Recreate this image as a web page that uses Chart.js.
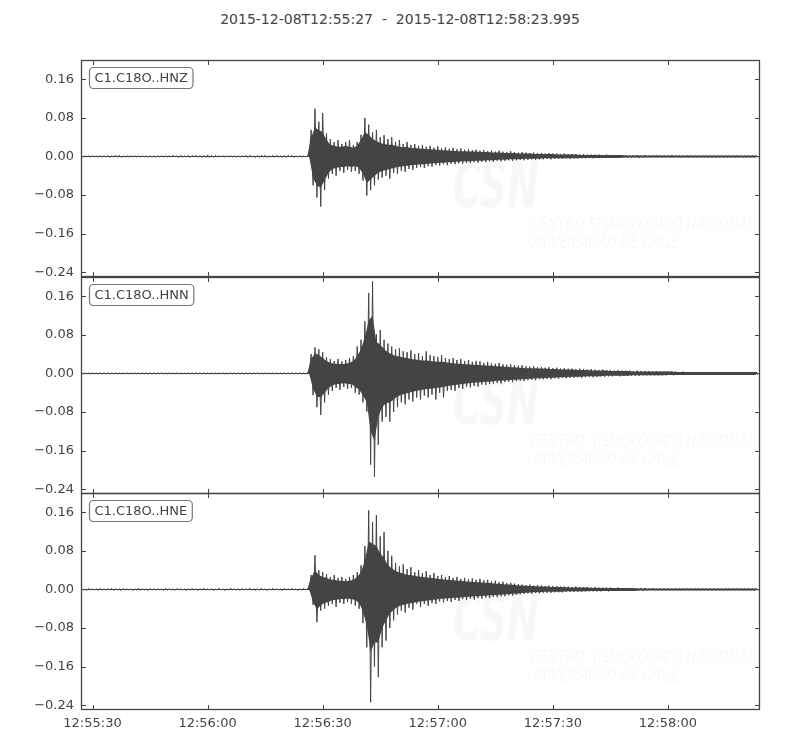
<!DOCTYPE html>
<html>
<head>
<meta charset="utf-8">
<script src="https://cdn.jsdelivr.net/npm/chart.js@4.4.0/dist/chart.umd.min.js"></script>
<style>
  body { margin: 0; background: #fff; }
  #wrap { position: relative; width: 800px; height: 750px; }
  #wrap canvas { position: absolute; left: 0; }
  #title { position: absolute; top: 11px; left: 0px; width: 800px; text-align: center;
           font: 14px 'DejaVu Sans', sans-serif; color: #444; white-space: pre; }
</style>
</head>
<body>
<div id="wrap">
  <div id="title"></div>
  <canvas id="p0" width="800" height="257" style="top:40px"></canvas>
  <canvas id="p1" width="800" height="257" style="top:257px"></canvas>
  <canvas id="p2" width="800" height="277" style="top:473px"></canvas>
</div>
<script>
const startTime = "2015-12-08T12:55:27";
const endTime = "2015-12-08T12:58:23.995";
const channels = ["C1.C18O..HNZ", "C1.C18O..HNN", "C1.C18O..HNE"];
// seconds after 12:55:27
const xTickSeconds = [3, 33, 63, 93, 123, 153];
const xTickLabels = ["12:55:30", "12:56:00", "12:56:30", "12:57:00", "12:57:30", "12:58:00"];
const yTicks = [-0.24, -0.16, -0.08, 0.0, 0.08, 0.16];
const yTickLabels = ["\u22120.24", "\u22120.16", "\u22120.08", "0.00", "0.08", "0.16"];

// peak envelope of each trace, one max / min per second (0..176 s)
const hnzUpper = [
  0.001, 0.001, 0.001, 0.001, 0.001, 0.001, 0.001, 0.002, 0.001, 0.002,
  0.002, 0.001, 0.001, 0.001, 0.001, 0.001, 0.001, 0.001, 0.001, 0.001,
  0.001, 0.001, 0.001, 0.001, 0.002, 0.001, 0.002, 0.001, 0.002, 0.002,
  0.002, 0.002, 0.002, 0.003, 0.002, 0.002, 0.001, 0.001, 0.001, 0.001,
  0.001, 0.001, 0.001, 0.002, 0.002, 0.001, 0.002, 0.002, 0.002, 0.001,
  0.002, 0.002, 0.001, 0.002, 0.002, 0.002, 0.001, 0.001, 0.001, 0.001,
  0.055, 0.099, 0.072, 0.090, 0.048, 0.036, 0.030, 0.034, 0.026, 0.030,
  0.034, 0.024, 0.030, 0.045, 0.080, 0.066, 0.050, 0.055, 0.040, 0.044,
  0.036, 0.040, 0.030, 0.034, 0.026, 0.030, 0.024, 0.026, 0.022, 0.024,
  0.020, 0.022, 0.018, 0.021, 0.017, 0.019, 0.016, 0.018, 0.015, 0.017,
  0.014, 0.015, 0.013, 0.014, 0.012, 0.013, 0.011, 0.012, 0.010, 0.012,
  0.010, 0.009, 0.011, 0.009, 0.008, 0.009, 0.008, 0.007, 0.008, 0.007,
  0.007, 0.006, 0.007, 0.006, 0.006, 0.005, 0.006, 0.005, 0.005, 0.005,
  0.004, 0.005, 0.004, 0.004, 0.004, 0.004, 0.003, 0.004, 0.003, 0.003,
  0.003, 0.003, 0.003, 0.002, 0.003, 0.003, 0.002, 0.003, 0.002, 0.002,
  0.003, 0.002, 0.002, 0.002, 0.003, 0.002, 0.002, 0.002, 0.002, 0.002,
  0.002, 0.002, 0.002, 0.002, 0.002, 0.002, 0.002, 0.002, 0.002, 0.002,
  0.002, 0.002, 0.002, 0.002, 0.002, 0.002, 0.002
];
const hnzLower = [
  -0.001, -0.001, -0.001, -0.001, -0.001, -0.001, -0.001, -0.002, -0.001, -0.001,
  -0.002, -0.001, -0.001, -0.001, -0.001, -0.001, -0.001, -0.001, -0.001, -0.001,
  -0.001, -0.001, -0.001, -0.001, -0.001, -0.002, -0.001, -0.001, -0.002, -0.001,
  -0.002, -0.002, -0.002, -0.002, -0.002, -0.001, -0.001, -0.001, -0.001, -0.001,
  -0.001, -0.001, -0.001, -0.002, -0.001, -0.002, -0.002, -0.001, -0.002, -0.001,
  -0.002, -0.001, -0.002, -0.002, -0.001, -0.002, -0.001, -0.001, -0.001, -0.001,
  -0.060, -0.085, -0.104, -0.070, -0.046, -0.036, -0.040, -0.030, -0.034, -0.028,
  -0.032, -0.030, -0.036, -0.050, -0.081, -0.070, -0.060, -0.048, -0.044, -0.040,
  -0.046, -0.034, -0.036, -0.030, -0.032, -0.026, -0.028, -0.024, -0.022, -0.024,
  -0.020, -0.021, -0.018, -0.019, -0.016, -0.018, -0.015, -0.016, -0.014, -0.015,
  -0.013, -0.014, -0.012, -0.013, -0.011, -0.012, -0.010, -0.011, -0.009, -0.010,
  -0.009, -0.008, -0.009, -0.008, -0.007, -0.008, -0.007, -0.006, -0.007, -0.006,
  -0.006, -0.005, -0.006, -0.005, -0.005, -0.005, -0.004, -0.005, -0.004, -0.004,
  -0.004, -0.004, -0.003, -0.004, -0.003, -0.003, -0.003, -0.003, -0.003, -0.003,
  -0.003, -0.002, -0.003, -0.002, -0.002, -0.003, -0.002, -0.002, -0.002, -0.002,
  -0.002, -0.002, -0.002, -0.002, -0.002, -0.002, -0.002, -0.002, -0.002, -0.002,
  -0.002, -0.002, -0.002, -0.002, -0.002, -0.002, -0.002, -0.002, -0.002, -0.002,
  -0.002, -0.002, -0.002, -0.002, -0.002, -0.002, -0.002
];
const hnnUpper = [
  0.001, 0.001, 0.001, 0.001, 0.001, 0.001, 0.001, 0.001, 0.001, 0.001,
  0.001, 0.001, 0.001, 0.001, 0.001, 0.001, 0.001, 0.001, 0.001, 0.001,
  0.001, 0.001, 0.001, 0.001, 0.001, 0.001, 0.001, 0.001, 0.001, 0.001,
  0.001, 0.001, 0.001, 0.001, 0.001, 0.001, 0.001, 0.001, 0.001, 0.001,
  0.001, 0.001, 0.001, 0.001, 0.001, 0.001, 0.001, 0.001, 0.001, 0.001,
  0.001, 0.001, 0.001, 0.001, 0.001, 0.001, 0.001, 0.001, 0.001, 0.001,
  0.040, 0.054, 0.050, 0.044, 0.034, 0.030, 0.026, 0.030, 0.025, 0.028,
  0.032, 0.036, 0.056, 0.070, 0.108, 0.167, 0.191, 0.081, 0.090, 0.070,
  0.062, 0.056, 0.050, 0.052, 0.046, 0.044, 0.048, 0.040, 0.042, 0.036,
  0.046, 0.038, 0.036, 0.034, 0.038, 0.032, 0.030, 0.032, 0.028, 0.030,
  0.026, 0.028, 0.024, 0.026, 0.025, 0.022, 0.024, 0.021, 0.020, 0.022,
  0.019, 0.018, 0.019, 0.017, 0.016, 0.017, 0.015, 0.014, 0.015, 0.013,
  0.013, 0.012, 0.013, 0.011, 0.012, 0.010, 0.011, 0.010, 0.010, 0.009,
  0.010, 0.009, 0.008, 0.009, 0.008, 0.007, 0.008, 0.007, 0.007, 0.006,
  0.007, 0.006, 0.006, 0.006, 0.005, 0.006, 0.005, 0.005, 0.005, 0.004,
  0.005, 0.004, 0.004, 0.004, 0.004, 0.004, 0.003, 0.004, 0.003, 0.003,
  0.003, 0.003, 0.003, 0.003, 0.003, 0.003, 0.003, 0.003, 0.003, 0.003,
  0.003, 0.003, 0.003, 0.003, 0.003, 0.003, 0.003
];
const hnnLower = [
  -0.001, -0.001, -0.001, -0.001, -0.001, -0.001, -0.001, -0.001, -0.001, -0.001,
  -0.001, -0.001, -0.001, -0.001, -0.001, -0.001, -0.001, -0.001, -0.001, -0.001,
  -0.001, -0.001, -0.001, -0.001, -0.001, -0.001, -0.001, -0.001, -0.001, -0.001,
  -0.001, -0.001, -0.001, -0.001, -0.001, -0.001, -0.001, -0.001, -0.001, -0.001,
  -0.001, -0.001, -0.001, -0.001, -0.001, -0.001, -0.001, -0.001, -0.001, -0.001,
  -0.001, -0.001, -0.001, -0.001, -0.001, -0.001, -0.001, -0.001, -0.001, -0.001,
  -0.045, -0.070, -0.086, -0.060, -0.044, -0.036, -0.030, -0.034, -0.028, -0.032,
  -0.030, -0.040, -0.044, -0.060, -0.079, -0.189, -0.214, -0.148, -0.100, -0.090,
  -0.100, -0.080, -0.070, -0.060, -0.064, -0.054, -0.058, -0.050, -0.054, -0.046,
  -0.050, -0.044, -0.054, -0.040, -0.050, -0.036, -0.034, -0.036, -0.030, -0.032,
  -0.028, -0.029, -0.026, -0.027, -0.023, -0.024, -0.022, -0.021, -0.020, -0.021,
  -0.018, -0.017, -0.018, -0.016, -0.015, -0.016, -0.014, -0.013, -0.014, -0.012,
  -0.012, -0.011, -0.012, -0.010, -0.011, -0.009, -0.010, -0.009, -0.009, -0.008,
  -0.009, -0.008, -0.007, -0.008, -0.007, -0.006, -0.007, -0.006, -0.006, -0.005,
  -0.006, -0.005, -0.005, -0.005, -0.005, -0.005, -0.004, -0.004, -0.004, -0.004,
  -0.004, -0.004, -0.004, -0.003, -0.004, -0.003, -0.003, -0.003, -0.003, -0.003,
  -0.003, -0.003, -0.003, -0.003, -0.003, -0.003, -0.003, -0.003, -0.003, -0.003,
  -0.003, -0.003, -0.003, -0.003, -0.003, -0.003, -0.003
];
const hneUpper = [
  0.001, 0.001, 0.002, 0.001, 0.001, 0.002, 0.001, 0.001, 0.002, 0.001,
  0.001, 0.002, 0.001, 0.001, 0.001, 0.002, 0.001, 0.001, 0.002, 0.001,
  0.001, 0.001, 0.002, 0.001, 0.001, 0.002, 0.001, 0.001, 0.001, 0.002,
  0.001, 0.001, 0.002, 0.001, 0.001, 0.001, 0.002, 0.001, 0.001, 0.002,
  0.001, 0.001, 0.002, 0.001, 0.002, 0.001, 0.001, 0.002, 0.001, 0.001,
  0.002, 0.001, 0.001, 0.002, 0.001, 0.002, 0.001, 0.001, 0.002, 0.001,
  0.030, 0.071, 0.040, 0.036, 0.032, 0.026, 0.030, 0.024, 0.026, 0.022,
  0.026, 0.030, 0.036, 0.050, 0.090, 0.164, 0.140, 0.154, 0.110, 0.119,
  0.080, 0.070, 0.055, 0.048, 0.052, 0.042, 0.046, 0.036, 0.040, 0.034,
  0.038, 0.030, 0.034, 0.028, 0.030, 0.026, 0.028, 0.024, 0.026, 0.022,
  0.024, 0.021, 0.023, 0.020, 0.022, 0.019, 0.020, 0.017, 0.018, 0.015,
  0.016, 0.013, 0.014, 0.012, 0.011, 0.010, 0.009, 0.010, 0.008, 0.009,
  0.008, 0.007, 0.008, 0.007, 0.007, 0.006, 0.006, 0.006, 0.005, 0.006,
  0.005, 0.005, 0.005, 0.004, 0.005, 0.004, 0.004, 0.004, 0.004, 0.003,
  0.004, 0.003, 0.003, 0.003, 0.003, 0.003, 0.003, 0.003, 0.002, 0.003,
  0.002, 0.002, 0.002, 0.002, 0.002, 0.002, 0.002, 0.002, 0.002, 0.002,
  0.002, 0.002, 0.002, 0.002, 0.002, 0.002, 0.002, 0.002, 0.002, 0.002,
  0.002, 0.002, 0.002, 0.002, 0.002, 0.002, 0.002
];
const hneLower = [
  -0.001, -0.002, -0.001, -0.001, -0.002, -0.001, -0.001, -0.001, -0.002, -0.001,
  -0.002, -0.001, -0.001, -0.002, -0.001, -0.001, -0.001, -0.002, -0.001, -0.001,
  -0.001, -0.002, -0.001, -0.001, -0.002, -0.001, -0.001, -0.002, -0.001, -0.001,
  -0.002, -0.001, -0.001, -0.001, -0.002, -0.001, -0.001, -0.002, -0.001, -0.001,
  -0.001, -0.002, -0.001, -0.001, -0.001, -0.002, -0.001, -0.001, -0.002, -0.001,
  -0.001, -0.001, -0.002, -0.001, -0.001, -0.001, -0.002, -0.001, -0.001, -0.001,
  -0.032, -0.068, -0.044, -0.040, -0.034, -0.030, -0.036, -0.028, -0.030, -0.026,
  -0.030, -0.034, -0.040, -0.070, -0.120, -0.234, -0.160, -0.182, -0.120, -0.106,
  -0.080, -0.064, -0.052, -0.044, -0.048, -0.038, -0.042, -0.030, -0.036, -0.030,
  -0.034, -0.028, -0.030, -0.025, -0.027, -0.024, -0.026, -0.022, -0.024, -0.020,
  -0.022, -0.019, -0.021, -0.018, -0.019, -0.017, -0.018, -0.015, -0.016, -0.014,
  -0.014, -0.012, -0.013, -0.011, -0.010, -0.009, -0.008, -0.009, -0.007, -0.008,
  -0.007, -0.007, -0.007, -0.006, -0.006, -0.006, -0.005, -0.005, -0.005, -0.005,
  -0.005, -0.004, -0.004, -0.004, -0.004, -0.004, -0.003, -0.004, -0.003, -0.003,
  -0.003, -0.003, -0.003, -0.003, -0.003, -0.002, -0.003, -0.002, -0.002, -0.002,
  -0.002, -0.002, -0.002, -0.002, -0.002, -0.002, -0.002, -0.002, -0.002, -0.002,
  -0.002, -0.002, -0.002, -0.002, -0.002, -0.002, -0.002, -0.002, -0.002, -0.002,
  -0.002, -0.002, -0.002, -0.002, -0.002, -0.002, -0.002
];

// dense core of each trace (where the samples pile up), per second
const hnzCoreUp = [
  0.001, 0.001, 0.001, 0.001, 0.001, 0.001, 0.001, 0.001, 0.001, 0.001,
  0.001, 0.001, 0.001, 0.001, 0.001, 0.001, 0.001, 0.001, 0.001, 0.001,
  0.001, 0.001, 0.001, 0.001, 0.001, 0.001, 0.001, 0.001, 0.001, 0.001,
  0.001, 0.001, 0.001, 0.001, 0.001, 0.001, 0.001, 0.001, 0.001, 0.001,
  0.001, 0.001, 0.001, 0.001, 0.001, 0.001, 0.001, 0.001, 0.001, 0.001,
  0.001, 0.001, 0.001, 0.001, 0.001, 0.001, 0.001, 0.001, 0.001, 0.001,
  0.040, 0.060, 0.055, 0.050, 0.034, 0.024, 0.022, 0.020, 0.020, 0.022,
  0.020, 0.018, 0.022, 0.035, 0.050, 0.045, 0.036, 0.032, 0.028, 0.026,
  0.024, 0.024, 0.022, 0.020, 0.019, 0.020, 0.017, 0.018, 0.016, 0.016,
  0.015, 0.015, 0.014, 0.014, 0.013, 0.013, 0.012, 0.012, 0.011, 0.011,
  0.011, 0.010, 0.010, 0.010, 0.009, 0.009, 0.009, 0.008, 0.008, 0.008,
  0.007, 0.007, 0.007, 0.007, 0.006, 0.006, 0.006, 0.006, 0.005, 0.005,
  0.005, 0.005, 0.005, 0.005, 0.004, 0.004, 0.004, 0.004, 0.004, 0.004,
  0.003, 0.003, 0.003, 0.003, 0.003, 0.003, 0.003, 0.003, 0.003, 0.003,
  0.003, 0.003, 0.002, 0.002, 0.002, 0.002, 0.002, 0.002, 0.002, 0.002,
  0.002, 0.002, 0.002, 0.002, 0.002, 0.002, 0.002, 0.002, 0.002, 0.002,
  0.002, 0.002, 0.002, 0.002, 0.002, 0.002, 0.002, 0.002, 0.002, 0.002,
  0.002, 0.002, 0.002, 0.002, 0.002, 0.002, 0.002
];
const hnzCoreLow = [
  -0.001, -0.001, -0.001, -0.001, -0.001, -0.001, -0.001, -0.001, -0.001, -0.001,
  -0.001, -0.001, -0.001, -0.001, -0.001, -0.001, -0.001, -0.001, -0.001, -0.001,
  -0.001, -0.001, -0.001, -0.001, -0.001, -0.001, -0.001, -0.001, -0.001, -0.001,
  -0.001, -0.001, -0.001, -0.001, -0.001, -0.001, -0.001, -0.001, -0.001, -0.001,
  -0.001, -0.001, -0.001, -0.001, -0.001, -0.001, -0.001, -0.001, -0.001, -0.001,
  -0.001, -0.001, -0.001, -0.001, -0.001, -0.001, -0.001, -0.001, -0.001, -0.001,
  -0.045, -0.060, -0.065, -0.050, -0.034, -0.026, -0.024, -0.022, -0.022, -0.020,
  -0.022, -0.020, -0.024, -0.036, -0.055, -0.048, -0.040, -0.034, -0.030, -0.028,
  -0.026, -0.024, -0.022, -0.021, -0.020, -0.019, -0.018, -0.017, -0.016, -0.016,
  -0.015, -0.014, -0.014, -0.013, -0.013, -0.012, -0.012, -0.011, -0.011, -0.010,
  -0.010, -0.010, -0.009, -0.009, -0.009, -0.008, -0.008, -0.008, -0.007, -0.007,
  -0.007, -0.006, -0.006, -0.006, -0.006, -0.005, -0.005, -0.005, -0.005, -0.005,
  -0.004, -0.004, -0.004, -0.004, -0.004, -0.004, -0.004, -0.004, -0.004, -0.004,
  -0.003, -0.003, -0.003, -0.003, -0.003, -0.003, -0.003, -0.003, -0.003, -0.003,
  -0.003, -0.002, -0.002, -0.002, -0.002, -0.002, -0.002, -0.002, -0.002, -0.002,
  -0.002, -0.002, -0.002, -0.002, -0.002, -0.002, -0.002, -0.002, -0.002, -0.002,
  -0.002, -0.002, -0.002, -0.002, -0.002, -0.002, -0.002, -0.002, -0.002, -0.002,
  -0.002, -0.002, -0.002, -0.002, -0.002, -0.002, -0.002
];
const hnnCoreUp = [
  0.001, 0.001, 0.001, 0.001, 0.001, 0.001, 0.001, 0.001, 0.001, 0.001,
  0.001, 0.001, 0.001, 0.001, 0.001, 0.001, 0.001, 0.001, 0.001, 0.001,
  0.001, 0.001, 0.001, 0.001, 0.001, 0.001, 0.001, 0.001, 0.001, 0.001,
  0.001, 0.001, 0.001, 0.001, 0.001, 0.001, 0.001, 0.001, 0.001, 0.001,
  0.001, 0.001, 0.001, 0.001, 0.001, 0.001, 0.001, 0.001, 0.001, 0.001,
  0.001, 0.001, 0.001, 0.001, 0.001, 0.001, 0.001, 0.001, 0.001, 0.001,
  0.030, 0.042, 0.038, 0.032, 0.026, 0.022, 0.020, 0.020, 0.019, 0.020,
  0.022, 0.026, 0.036, 0.050, 0.075, 0.110, 0.120, 0.065, 0.060, 0.050,
  0.044, 0.040, 0.036, 0.035, 0.033, 0.032, 0.030, 0.029, 0.028, 0.027,
  0.027, 0.026, 0.025, 0.024, 0.024, 0.023, 0.022, 0.021, 0.020, 0.020,
  0.019, 0.019, 0.018, 0.018, 0.017, 0.017, 0.016, 0.016, 0.015, 0.015,
  0.014, 0.014, 0.013, 0.013, 0.012, 0.012, 0.011, 0.011, 0.011, 0.010,
  0.010, 0.010, 0.009, 0.009, 0.009, 0.008, 0.008, 0.008, 0.008, 0.007,
  0.007, 0.007, 0.007, 0.006, 0.006, 0.006, 0.006, 0.006, 0.005, 0.005,
  0.005, 0.005, 0.005, 0.005, 0.004, 0.004, 0.004, 0.004, 0.004, 0.004,
  0.004, 0.004, 0.004, 0.004, 0.004, 0.003, 0.003, 0.003, 0.003, 0.003,
  0.003, 0.003, 0.003, 0.003, 0.003, 0.003, 0.003, 0.003, 0.003, 0.003,
  0.003, 0.003, 0.003, 0.003, 0.003, 0.003, 0.003
];
const hnnCoreLow = [
  -0.001, -0.001, -0.001, -0.001, -0.001, -0.001, -0.001, -0.001, -0.001, -0.001,
  -0.001, -0.001, -0.001, -0.001, -0.001, -0.001, -0.001, -0.001, -0.001, -0.001,
  -0.001, -0.001, -0.001, -0.001, -0.001, -0.001, -0.001, -0.001, -0.001, -0.001,
  -0.001, -0.001, -0.001, -0.001, -0.001, -0.001, -0.001, -0.001, -0.001, -0.001,
  -0.001, -0.001, -0.001, -0.001, -0.001, -0.001, -0.001, -0.001, -0.001, -0.001,
  -0.001, -0.001, -0.001, -0.001, -0.001, -0.001, -0.001, -0.001, -0.001, -0.001,
  -0.032, -0.048, -0.050, -0.040, -0.030, -0.025, -0.022, -0.022, -0.020, -0.022,
  -0.022, -0.028, -0.034, -0.045, -0.060, -0.120, -0.140, -0.090, -0.070, -0.062,
  -0.060, -0.054, -0.048, -0.044, -0.042, -0.040, -0.038, -0.036, -0.035, -0.033,
  -0.032, -0.031, -0.030, -0.029, -0.028, -0.026, -0.025, -0.024, -0.023, -0.022,
  -0.021, -0.020, -0.019, -0.019, -0.018, -0.017, -0.017, -0.016, -0.015, -0.015,
  -0.014, -0.014, -0.013, -0.013, -0.012, -0.012, -0.011, -0.011, -0.010, -0.010,
  -0.010, -0.009, -0.009, -0.009, -0.008, -0.008, -0.008, -0.007, -0.007, -0.007,
  -0.007, -0.006, -0.006, -0.006, -0.006, -0.006, -0.005, -0.005, -0.005, -0.005,
  -0.005, -0.005, -0.005, -0.004, -0.004, -0.004, -0.004, -0.004, -0.004, -0.004,
  -0.004, -0.004, -0.003, -0.003, -0.003, -0.003, -0.003, -0.003, -0.003, -0.003,
  -0.003, -0.003, -0.003, -0.003, -0.003, -0.003, -0.003, -0.003, -0.003, -0.003,
  -0.003, -0.003, -0.003, -0.003, -0.003, -0.003, -0.003
];
const hneCoreUp = [
  0.001, 0.001, 0.001, 0.001, 0.001, 0.001, 0.001, 0.001, 0.001, 0.001,
  0.001, 0.001, 0.001, 0.001, 0.001, 0.001, 0.001, 0.001, 0.001, 0.001,
  0.001, 0.001, 0.001, 0.001, 0.001, 0.001, 0.001, 0.001, 0.001, 0.001,
  0.001, 0.001, 0.001, 0.001, 0.001, 0.001, 0.001, 0.001, 0.001, 0.001,
  0.001, 0.001, 0.001, 0.001, 0.001, 0.001, 0.001, 0.001, 0.001, 0.001,
  0.001, 0.001, 0.001, 0.001, 0.001, 0.001, 0.001, 0.001, 0.001, 0.001,
  0.024, 0.040, 0.030, 0.026, 0.024, 0.020, 0.020, 0.018, 0.018, 0.017,
  0.018, 0.020, 0.026, 0.036, 0.060, 0.100, 0.095, 0.090, 0.075, 0.065,
  0.050, 0.044, 0.038, 0.035, 0.033, 0.030, 0.030, 0.028, 0.027, 0.026,
  0.025, 0.024, 0.023, 0.022, 0.021, 0.020, 0.020, 0.019, 0.018, 0.018,
  0.017, 0.016, 0.016, 0.015, 0.015, 0.014, 0.014, 0.013, 0.012, 0.012,
  0.011, 0.010, 0.010, 0.009, 0.008, 0.008, 0.007, 0.007, 0.007, 0.006,
  0.006, 0.006, 0.005, 0.005, 0.005, 0.005, 0.005, 0.004, 0.004, 0.004,
  0.004, 0.004, 0.004, 0.003, 0.003, 0.003, 0.003, 0.003, 0.003, 0.003,
  0.003, 0.003, 0.003, 0.003, 0.003, 0.002, 0.002, 0.002, 0.002, 0.002,
  0.002, 0.002, 0.002, 0.002, 0.002, 0.002, 0.002, 0.002, 0.002, 0.002,
  0.002, 0.002, 0.002, 0.002, 0.002, 0.002, 0.002, 0.002, 0.002, 0.002,
  0.002, 0.002, 0.002, 0.002, 0.002, 0.002, 0.002
];
const hneCoreLow = [
  -0.001, -0.001, -0.001, -0.001, -0.001, -0.001, -0.001, -0.001, -0.001, -0.001,
  -0.001, -0.001, -0.001, -0.001, -0.001, -0.001, -0.001, -0.001, -0.001, -0.001,
  -0.001, -0.001, -0.001, -0.001, -0.001, -0.001, -0.001, -0.001, -0.001, -0.001,
  -0.001, -0.001, -0.001, -0.001, -0.001, -0.001, -0.001, -0.001, -0.001, -0.001,
  -0.001, -0.001, -0.001, -0.001, -0.001, -0.001, -0.001, -0.001, -0.001, -0.001,
  -0.001, -0.001, -0.001, -0.001, -0.001, -0.001, -0.001, -0.001, -0.001, -0.001,
  -0.026, -0.042, -0.032, -0.028, -0.026, -0.022, -0.022, -0.020, -0.020, -0.019,
  -0.020, -0.022, -0.028, -0.045, -0.075, -0.130, -0.110, -0.110, -0.080, -0.065,
  -0.050, -0.042, -0.036, -0.033, -0.031, -0.029, -0.028, -0.026, -0.025, -0.024,
  -0.023, -0.022, -0.021, -0.020, -0.019, -0.019, -0.018, -0.017, -0.017, -0.016,
  -0.015, -0.015, -0.014, -0.014, -0.013, -0.013, -0.012, -0.012, -0.011, -0.011,
  -0.010, -0.010, -0.009, -0.009, -0.008, -0.007, -0.007, -0.006, -0.006, -0.006,
  -0.005, -0.005, -0.005, -0.005, -0.005, -0.005, -0.004, -0.004, -0.004, -0.004,
  -0.004, -0.004, -0.003, -0.003, -0.003, -0.003, -0.003, -0.003, -0.003, -0.003,
  -0.003, -0.003, -0.003, -0.003, -0.003, -0.002, -0.002, -0.002, -0.002, -0.002,
  -0.002, -0.002, -0.002, -0.002, -0.002, -0.002, -0.002, -0.002, -0.002, -0.002,
  -0.002, -0.002, -0.002, -0.002, -0.002, -0.002, -0.002, -0.002, -0.002, -0.002,
  -0.002, -0.002, -0.002, -0.002, -0.002, -0.002, -0.002
];

const traces = [
  [hnzUpper, hnzLower, hnzCoreUp, hnzCoreLow],
  [hnnUpper, hnnLower, hnnCoreUp, hnnCoreLow],
  [hneUpper, hneLower, hneCoreUp, hneCoreLow]
];
const ink = "#444";

Chart.defaults.font.family = "'DejaVu Sans', sans-serif";
Chart.defaults.font.size = 13;
Chart.defaults.color = ink;

document.getElementById("title").textContent = startTime + "  -  " + endTime;

// one max then one min per second, so the line sweeps through the envelope
function zigzag(upper, lower) {
  const pts = [];
  upper.forEach((u, i) => {
    pts.push({ x: i, y: u });
    pts.push({ x: i + 0.5, y: lower[i] });
  });
  return pts;
}

// matplotlib-like frame with inward ticks on all sides
const framePlugin = {
  id: "frame",
  afterDatasetsDraw(chart) {
    const { ctx, chartArea: a, scales } = chart;
    ctx.save();
    ctx.strokeStyle = ink;
    ctx.lineWidth = 1;
    ctx.beginPath();
    yTicks.forEach((v) => {
      const y = Math.round(scales.y.getPixelForValue(v)) + 0.5;
      ctx.moveTo(a.left, y); ctx.lineTo(a.left + 5, y);
      ctx.moveTo(a.right, y); ctx.lineTo(a.right - 5, y);
    });
    xTickSeconds.forEach((v) => {
      const x = Math.round(scales.x.getPixelForValue(v)) + 0.5;
      ctx.moveTo(x, a.top); ctx.lineTo(x, a.top + 5);
      ctx.moveTo(x, a.bottom); ctx.lineTo(x, a.bottom - 5);
    });
    ctx.stroke();
    ctx.lineWidth = 1.3;
    ctx.strokeRect(a.left + 0.5, a.top + 0.5, a.right - a.left - 1, a.bottom - a.top - 1);
    ctx.restore();
  }
};

// station label in a rounded box, top left
const labelPlugin = {
  id: "stationLabel",
  afterDatasetsDraw(chart, args, opts) {
    const { ctx, chartArea: a } = chart;
    ctx.save();
    ctx.font = "13px 'DejaVu Sans', sans-serif";
    const w = ctx.measureText(opts.text).width + 10;
    const x = a.left + 8.5, y = a.top + 7.5, h = 21;
    ctx.beginPath();
    ctx.roundRect(x, y, w, h, 4);
    ctx.fillStyle = "#fff";
    ctx.fill();
    ctx.strokeStyle = "#777";
    ctx.lineWidth = 1.2;
    ctx.stroke();
    ctx.fillStyle = ink;
    ctx.textBaseline = "middle";
    ctx.fillText(opts.text, x + 5, y + h / 2 + 1);
    ctx.restore();
  }
};

// faint CSN watermark behind the trace
const watermarkPlugin = {
  id: "watermark",
  beforeDatasetsDraw(chart) {
    const { ctx, chartArea: a } = chart;
    ctx.save();
    ctx.fillStyle = "rgba(0,0,0,0.03)";
    ctx.font = "italic bold 64px 'DejaVu Sans', sans-serif";
    ctx.fillText("CSN", 453, a.top + 147, 86);
    ctx.font = "italic 18px 'DejaVu Sans', sans-serif";
    ctx.fillText("CENTRO SISMOLÓGICO NACIONAL", 530, a.top + 170, 225);
    ctx.fillText("UNIVERSIDAD DE CHILE", 528, a.top + 188, 152);
    ctx.restore();
  }
};

function makePanel(i) {
  const last = i === 2;
  const [upper, lower, coreUp, coreLow] = traces[i];
  new Chart(document.getElementById("p" + i), {
    type: "line",
    data: {
      datasets: [
        {
          // solid core band
          data: coreUp.map((u, k) => ({ x: k, y: u })),
          borderWidth: 0,
          pointRadius: 0,
          backgroundColor: ink,
          fill: "+1"
        },
        {
          data: coreLow.map((l, k) => ({ x: k + 0.5, y: l })),
          borderWidth: 0,
          pointRadius: 0,
          fill: false
        },
        {
          // peaks sticking out of the core
          data: zigzag(upper, lower),
          borderColor: ink,
          borderWidth: 1,
          borderJoinStyle: "round",
          pointRadius: 0,
          tension: 0,
          fill: false
        }
      ]
    },
    options: {
      responsive: false,
      animation: false,
      events: [],
      layout: { padding: { top: 20, bottom: last ? 0 : 20, left: 0, right: 40 } },
      plugins: {
        legend: { display: false },
        tooltip: { enabled: false },
        stationLabel: { text: channels[i] }
      },
      scales: {
        x: {
          type: "linear",
          min: 0,
          max: 177,
          display: last,
          grid: { display: false, drawTicks: false },
          border: { display: false },
          afterBuildTicks: (ax) => { ax.ticks = xTickSeconds.map((v) => ({ value: v })); },
          afterFit: (ax) => {
            ax.height = last ? 40 : 0;
            ax.paddingLeft = 0;
            ax.paddingRight = 0;
          },
          ticks: {
            padding: 6,
            maxRotation: 0,
            autoSkip: false,
            callback: (v, idx) => xTickLabels[idx]
          }
        },
        y: {
          min: -0.25,
          max: 0.2,
          grid: { display: false, drawTicks: false },
          border: { display: false },
          afterBuildTicks: (ax) => { ax.ticks = yTicks.map((v) => ({ value: v })); },
          afterFit: (ax) => { ax.width = 81; ax.paddingTop = 0; ax.paddingBottom = 0; },
          ticks: {
            padding: 7,
            autoSkip: false,
            callback: (v, idx) => yTickLabels[idx]
          }
        }
      }
    },
    plugins: [watermarkPlugin, framePlugin, labelPlugin]
  });
}

[0, 1, 2].forEach(makePanel);
</script>
</body>
</html>
